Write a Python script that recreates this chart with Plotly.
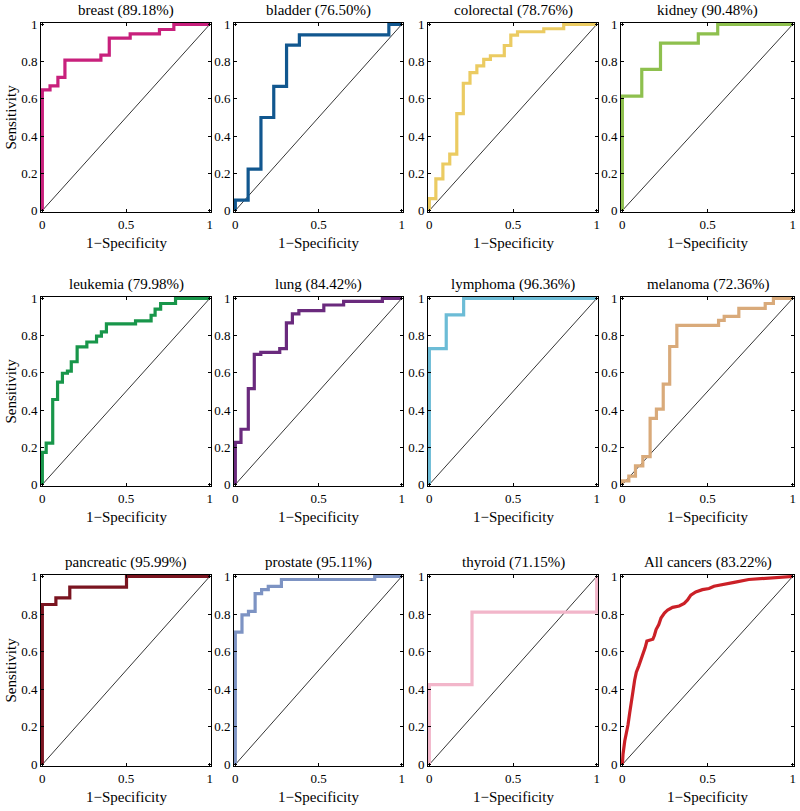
"""ROC curves per cancer type, 3x4 grid in MATLAB style."""

import plotly.graph_objects as go

# ---------------------------------------------------------------------------
# Data: ROC points (1-specificity, sensitivity)
# ---------------------------------------------------------------------------

names = ["breast", "bladder", "colorectal", "kidney",
         "leukemia", "lung", "lymphoma", "melanoma",
         "pancreatic", "prostate", "thyroid", "All cancers"]
auc = [89.18, 76.50, 78.76, 90.48, 79.98, 84.42, 96.36, 72.36, 95.99, 95.11, 71.15, 83.22]

breast_fpr = [0, 0, 0.046, 0.093, 0.135, 0.35, 0.40, 0.525, 0.70, 0.786, 1]
breast_tpr = [0, 0.649, 0.670, 0.716, 0.808, 0.835, 0.927, 0.950, 0.973, 1.0, 1.0]

bladder_fpr = [0, 0, 0.077, 0.154, 0.231, 0.308, 0.385, 0.923, 1]
bladder_tpr = [0, 0.056, 0.222, 0.5, 0.667, 0.889, 0.944, 1, 1]

colorectal_fpr = [0, 0, 0.039, 0.081, 0.122, 0.164, 0.203, 0.243, 0.284, 0.325,
                  0.365, 0.448, 0.487, 0.527, 0.684, 0.803, 1]
colorectal_tpr = [0, 0.064, 0.17, 0.25, 0.303, 0.521, 0.684, 0.741, 0.777, 0.812,
                  0.832, 0.887, 0.943, 0.961, 0.977, 1, 1]

kidney_fpr = [0, 0, 0.114, 0.224, 0.446, 0.56, 1]
kidney_tpr = [0, 0.615, 0.759, 0.90, 0.95, 1, 1]

leukemia_fpr = [0, 0, 0.023, 0.062, 0.091, 0.12, 0.15, 0.173, 0.208, 0.266, 0.324,
                0.353, 0.383, 0.557, 0.65, 0.674, 0.707, 0.796, 1]
leukemia_tpr = [0, 0.173, 0.223, 0.457, 0.55, 0.598, 0.61, 0.66, 0.74, 0.766, 0.798,
                0.82, 0.864, 0.88, 0.91, 0.943, 0.973, 1, 1]

lung_fpr = [0, 0, 0.034, 0.078, 0.114, 0.153, 0.267, 0.307, 0.343, 0.382, 0.532, 0.651, 0.884, 1]
lung_tpr = [0, 0.227, 0.297, 0.515, 0.70, 0.71, 0.73, 0.869, 0.917, 0.935, 0.965, 0.984, 1, 1]

lymphoma_fpr = [0, 0, 0.101, 0.205, 1]
lymphoma_tpr = [0, 0.731, 0.912, 1, 1]

melanoma_fpr = [0, 0, 0.038, 0.077, 0.12, 0.163, 0.2, 0.24, 0.278, 0.32, 0.565, 0.598,
                0.684, 0.839, 0.887, 1]
melanoma_tpr = [0, 0.02, 0.045, 0.10, 0.15, 0.356, 0.405, 0.54, 0.742, 0.856, 0.882, 0.904,
                0.947, 0.973, 1, 1]

pancreatic_fpr = [0, 0, 0.081, 0.164, 0.503, 1]
pancreatic_tpr = [0, 0.851, 0.886, 0.944, 1, 1]

prostate_fpr = [0, 0, 0.04, 0.079, 0.119, 0.158, 0.198, 0.277, 0.838, 1]
prostate_tpr = [0, 0.704, 0.796, 0.814, 0.909, 0.93, 0.948, 0.984, 1, 1]

thyroid_fpr = [0, 0, 0.255, 1, 1]
thyroid_tpr = [0, 0.425, 0.81, 0.81, 1]

all_fpr = [0, 0.004, 0.014, 0.023, 0.033, 0.043, 0.052, 0.062, 0.072, 0.082, 0.097, 0.111,
           0.12, 0.134, 0.144, 0.159, 0.179, 0.188, 0.198, 0.214, 0.227, 0.247, 0.266,
           0.295, 0.334, 0.363, 0.383, 0.402, 0.431, 0.47, 0.509, 0.538, 0.606, 0.664,
           0.742, 0.839, 0.917, 1]
all_tpr = [0, 0.056, 0.125, 0.16, 0.21, 0.274, 0.317, 0.387, 0.448, 0.491, 0.526, 0.561,
           0.596, 0.622, 0.657, 0.662, 0.666, 0.686, 0.718, 0.744, 0.779, 0.805, 0.822,
           0.836, 0.843, 0.857, 0.875, 0.901, 0.918, 0.93, 0.936, 0.948, 0.962, 0.97,
           0.984, 0.991, 0.997, 1]

curves = [
    (breast_fpr, breast_tpr), (bladder_fpr, bladder_tpr),
    (colorectal_fpr, colorectal_tpr), (kidney_fpr, kidney_tpr),
    (leukemia_fpr, leukemia_tpr), (lung_fpr, lung_tpr),
    (lymphoma_fpr, lymphoma_tpr), (melanoma_fpr, melanoma_tpr),
    (pancreatic_fpr, pancreatic_tpr), (prostate_fpr, prostate_tpr),
    (thyroid_fpr, thyroid_tpr), (all_fpr, all_tpr),
]

colors = ["#C8207C", "#11578F", "#EBCB62", "#8EC04E",
          "#18964A", "#6A2A7D", "#6CBCD6", "#D9AA7A",
          "#7A1420", "#7D93C3", "#F2B6CA", "#CB2027"]

# ---------------------------------------------------------------------------
# Layout (pixel boxes of each panel, page is 800 x 811)
# ---------------------------------------------------------------------------

W, H = 800, 811
COLS = [(41, 211), (234, 403), (428, 598), (621, 794)]
ROWS = [(23, 212), (297, 486), (575, 766)]
FONT = "Liberation Serif"
PAD = 0.008

fig = go.Figure()
annotations = []

for i, (name, (fx, fy)) in enumerate(zip(names, curves)):
    r, c = divmod(i, 4)
    n = "" if i == 0 else str(i + 1)
    x0, x1 = COLS[c]
    y0, y1 = ROWS[r]

    # chance diagonal
    fig.add_trace(go.Scatter(
        x=[0, 1], y=[0, 1], mode="lines", xaxis="x" + n, yaxis="y" + n,
        line=dict(color="black", width=0.8), hoverinfo="skip", showlegend=False,
    ))
    fig.add_trace(go.Scatter(
        x=fx, y=fy, mode="lines", xaxis="x" + n, yaxis="y" + n,
        line=dict(color=colors[i], width=3.2,
                  shape="linear" if name == "All cancers" else "hv"),
        showlegend=False, name=name,
    ))

    axis_common = dict(
        range=[-PAD, 1 + PAD], showgrid=False, zeroline=False,
        showline=True, linecolor="black", linewidth=1, mirror="ticks",
        ticks="inside", ticklen=3, tickcolor="black",
        tickfont=dict(family=FONT, size=13, color="black"),
        automargin=False,
    )
    fig.update_layout({
        "xaxis" + n: dict(axis_common, domain=[x0 / W, x1 / W], anchor="y" + n,
                          tickvals=[0, 0.5, 1], ticktext=["0", "0.5", "1"]),
        "yaxis" + n: dict(axis_common, domain=[1 - y1 / H, 1 - y0 / H], anchor="x" + n,
                          tickvals=[0, 0.2, 0.4, 0.6, 0.8, 1],
                          ticktext=["0", "0.2", "0.4", "0.6", "0.8", "1"]),
    })

    annotations.append(dict(
        text=f"{name} ({auc[i]:.2f}%)", x=(x0 + x1) / 2 / W, y=1 - (y0 - 13) / H,
        xref="paper", yref="paper", xanchor="center", yanchor="middle",
        showarrow=False, font=dict(family=FONT, size=15, color="black"),
    ))
    annotations.append(dict(
        text="1\u2212Specificity", x=(x0 + x1) / 2 / W, y=1 - (y1 + 31) / H,
        xref="paper", yref="paper", xanchor="center", yanchor="middle",
        showarrow=False, font=dict(family=FONT, size=15, color="black"),
    ))
    if c == 0:
        annotations.append(dict(
            text="Sensitivity", x=10 / W, y=1 - (y0 + y1) / 2 / H,
            xref="paper", yref="paper", xanchor="center", yanchor="middle",
            textangle=-90, showarrow=False,
            font=dict(family=FONT, size=15, color="black"),
        ))

fig.update_layout(
    width=W, height=H,
    margin=dict(l=0, r=0, t=0, b=0),
    plot_bgcolor="white", paper_bgcolor="white",
    template="none",
    annotations=annotations,
    showlegend=False,
)

# page body has a default margin; drop it so the figure sits at the window origin
fig.write_html(
    "out.html",
    config={"displayModeBar": False},
    post_script="document.body.style.margin='0px';",
)
